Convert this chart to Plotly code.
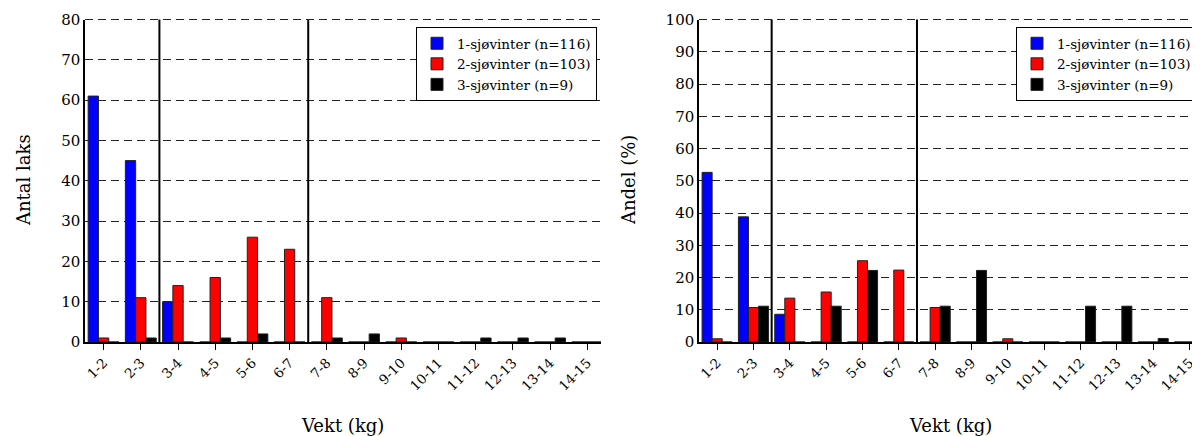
import plotly.graph_objects as go

categories = ["1-2", "2-3", "3-4", "4-5", "5-6", "6-7", "7-8", "8-9", "9-10",
              "10-11", "11-12", "12-13", "13-14", "14-15"]
series_names = ["1-sjøvinter (n=116)", "2-sjøvinter (n=103)", "3-sjøvinter (n=9)"]
colors = ["#0000ff", "#ff0000", "#000000"]

# Left panel: counts
count_1sw = [61, 45, 10, 0, 0, 0, 0, 0, 0, 0, 0, 0, 0, 0]
count_2sw = [1, 11, 14, 16, 26, 23, 11, 0, 1, 0, 0, 0, 0, 0]
count_3sw = [0, 1, 0, 1, 2, 0, 1, 2, 0, 0, 1, 1, 1, 0]

# Right panel: percentages
pct_1sw = [52.6, 38.8, 8.6, 0, 0, 0, 0, 0, 0, 0, 0, 0, 0, 0]
pct_2sw = [1.0, 10.7, 13.6, 15.5, 25.2, 22.3, 10.7, 0, 1.0, 0, 0, 0, 0, 0]
pct_3sw = [0, 11.1, 0, 11.1, 22.2, 0, 11.1, 22.2, 0, 0, 11.1, 11.1, 1.1, 0]

left_vals = [count_1sw, count_2sw, count_3sw]
right_vals = [pct_1sw, pct_2sw, pct_3sw]

FONT = "DejaVu Serif"
W = 1200.0
H = 436.0
OFF = 8.0  # page body margin


def px(xpix):
    return (xpix - OFF) / W


def py(ypix):
    return 1 - (ypix - OFF) / H


fig = go.Figure()
for name, col, vals in zip(series_names, colors, left_vals):
    fig.add_trace(go.Bar(x=list(range(len(categories))), y=vals, name=name,
                         marker=dict(color=col, line=dict(color="#222222", width=1)),
                         xaxis="x", yaxis="y", legend="legend"))
for name, col, vals in zip(series_names, colors, right_vals):
    fig.add_trace(go.Bar(x=list(range(len(categories))), y=vals, name=name,
                         marker=dict(color=col, line=dict(color="#222222", width=1)),
                         xaxis="x2", yaxis="y2", legend="legend2"))

ydom = [py(342), py(19.5)]

xcommon = dict(
    tickmode="array", tickvals=list(range(len(categories))), ticktext=categories,
    tickangle=-45, ticks="outside", ticklen=6, tickcolor="black",
    showline=True, linecolor="black", linewidth=1.5, showgrid=False, zeroline=False,
    automargin=False,
    tickfont=dict(family=FONT, size=13.5, color="black"),
)
ycommon = dict(
    showline=True, linecolor="black", linewidth=1.5, showgrid=True,
    gridcolor="#222222", gridwidth=1, griddash="8px,5px", zeroline=False,
    automargin=False,
    ticks="", tickfont=dict(family=FONT, size=15, color="black"),
)

legend_common = dict(
    xanchor="right", yanchor="top",
    bgcolor="white", bordercolor="black", borderwidth=1,
    font=dict(family=FONT, size=13.5, color="black"),
    itemwidth=30, tracegroupgap=0,
)

fig.update_layout(
    width=1200, height=436,
    margin=dict(l=0, r=0, t=0, b=0, autoexpand=False),
    paper_bgcolor="white", plot_bgcolor="white",
    barmode="group", bargap=0.17, bargroupgap=0,
    font=dict(family=FONT, color="black"),
    xaxis=dict(domain=[px(85), px(601)], range=[-0.5, 13.37], anchor="y", **xcommon),
    yaxis=dict(domain=ydom, range=[0, 80], dtick=10, anchor="x", **ycommon),
    xaxis2=dict(domain=[px(699), px(1200)], range=[-0.5, 13.29], anchor="y2", **xcommon),
    yaxis2=dict(domain=ydom, range=[0, 100], dtick=10, anchor="x2", **ycommon),
    legend=dict(x=px(597), y=py(27), **legend_common),
    legend2=dict(x=px(1197), y=py(27), **legend_common),
    showlegend=True,
)

# Vertical separator lines and dashed top edge
for xr, yr in [("x", "y domain"), ("x2", "y2 domain")]:
    for xv in [1.5, 5.5]:
        fig.add_shape(type="line", xref=xr, yref=yr, x0=xv, x1=xv, y0=0, y1=1,
                      line=dict(color="black", width=2))
for xr, yr in [("x domain", "y domain"), ("x2 domain", "y2 domain")]:
    fig.add_shape(type="line", xref=xr, yref=yr, x0=0, x1=1, y0=1, y1=1,
                  line=dict(color="#222222", width=1, dash="8px,5px"))

# Axis titles
title_font = dict(family=FONT, size=18, color="black")
anno_common = dict(xref="paper", yref="paper", showarrow=False, font=title_font,
                   xanchor="center", yanchor="middle")
fig.add_annotation(text="Antal laks", x=px(23), y=py(180), textangle=-90, **anno_common)
fig.add_annotation(text="Andel (%)", x=px(628), y=py(180), textangle=-90, **anno_common)
fig.add_annotation(text="Vekt (kg)", x=px(342), y=py(425), **anno_common)
fig.add_annotation(text="Vekt (kg)", x=px(950), y=py(425), **anno_common)

fig.write_html("out.html")
